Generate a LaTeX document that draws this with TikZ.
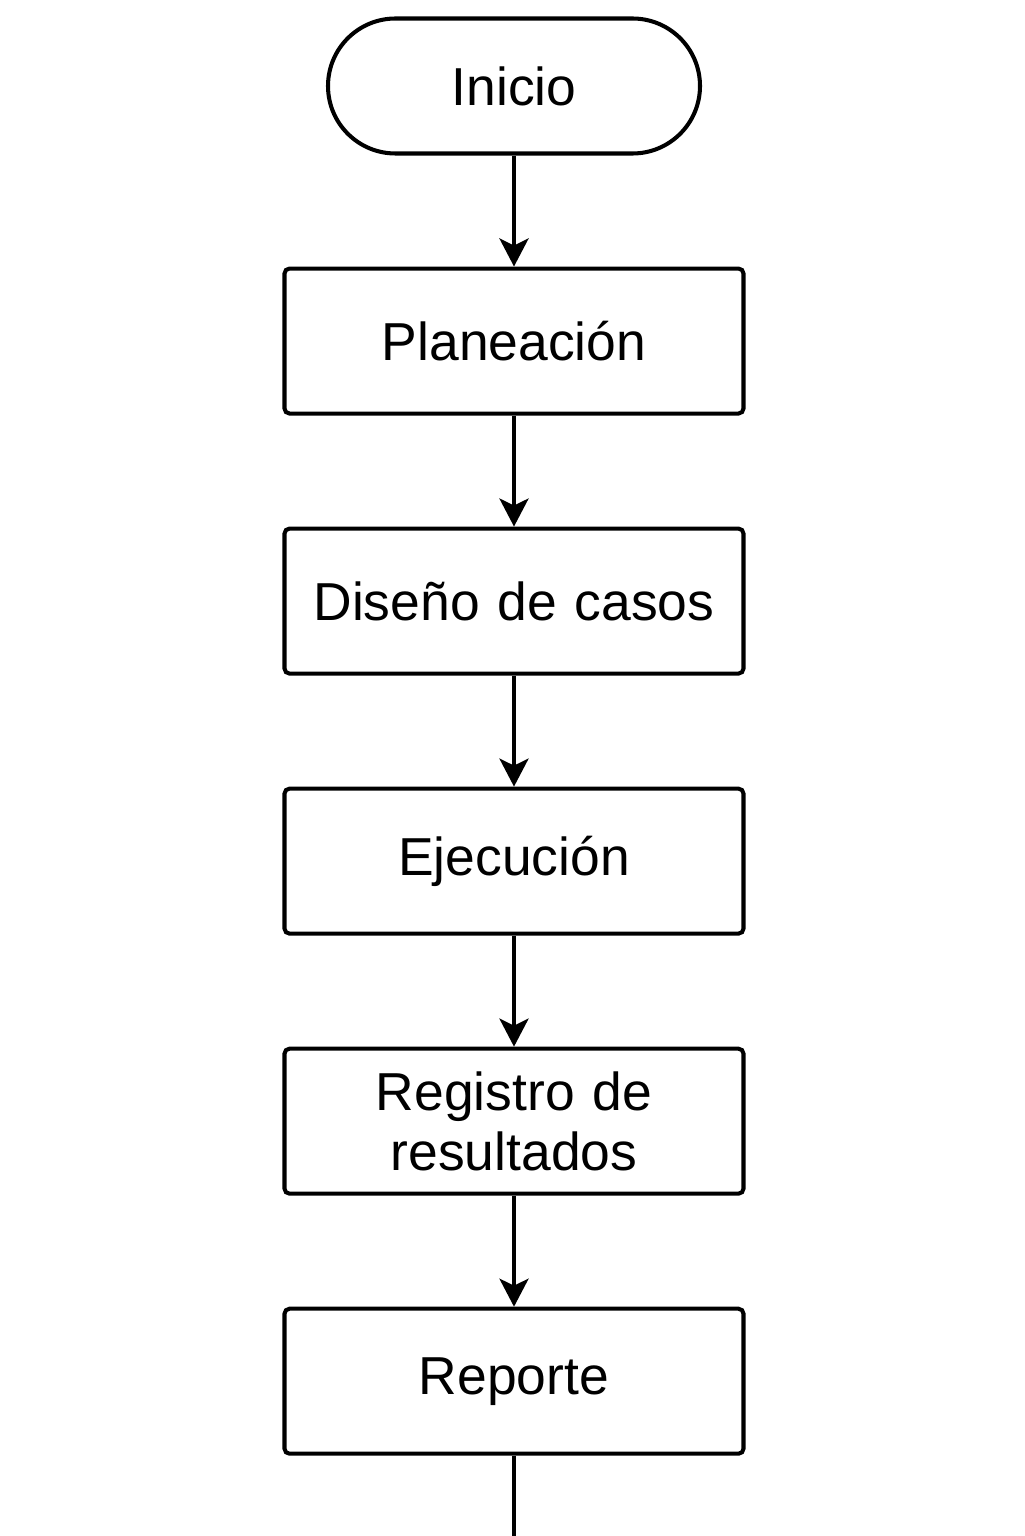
\documentclass[tikz,border=0pt]{standalone}
\usepackage{fontspec}
\setmainfont{Liberation Sans}
\usetikzlibrary{arrows.meta}
\usetikzlibrary{positioning}

\begin{document}
\begin{tikzpicture}[>={Stealth[length=5.6mm,width=5.8mm,inset=1.4mm]}, node distance=2.22cm, line width=2.3pt]
	\tikzstyle{startstop} = [draw, rectangle, rounded corners=1.35cm, minimum width=7.44cm, minimum height=2.7cm, font=\fontsize{30.4}{34}\selectfont];
	\tikzstyle{stepbox} = [draw, rectangle, rounded corners=0.1cm, minimum width=9.18cm, minimum height=2.9cm, text width=8.6cm, align=center, font=\fontsize{30.4}{34}\selectfont];

	\useasboundingbox (0,0) rectangle (20.48,-30.72);

	\node [startstop] (inicio) at (10.28,-1.72) {Inicio};
	\node [stepbox]   (planeacion) [below = of inicio]     {Planeación};
	\node [stepbox]   (diseno)     [below = of planeacion] {Diseño de casos};
	\node [stepbox]   (ejecucion)  [below = of diseno]     {Ejecución};
	\node [stepbox]   (registro)   [below = of ejecucion]  {Registro de\\resultados};
	\node [stepbox]   (reporte)    [below = of registro]   {Reporte};
	\coordinate (fin) at (reporte.south |- 0,-30.72);

	\draw [->] (inicio) -- (planeacion);
	\draw [->] (planeacion) -- (diseno);
	\draw [->] (diseno) -- (ejecucion);
	\draw [->] (ejecucion) -- (registro);
	\draw [->] (registro) -- (reporte);
	\draw (reporte) -- (fin);
\end{tikzpicture}
\end{document}
